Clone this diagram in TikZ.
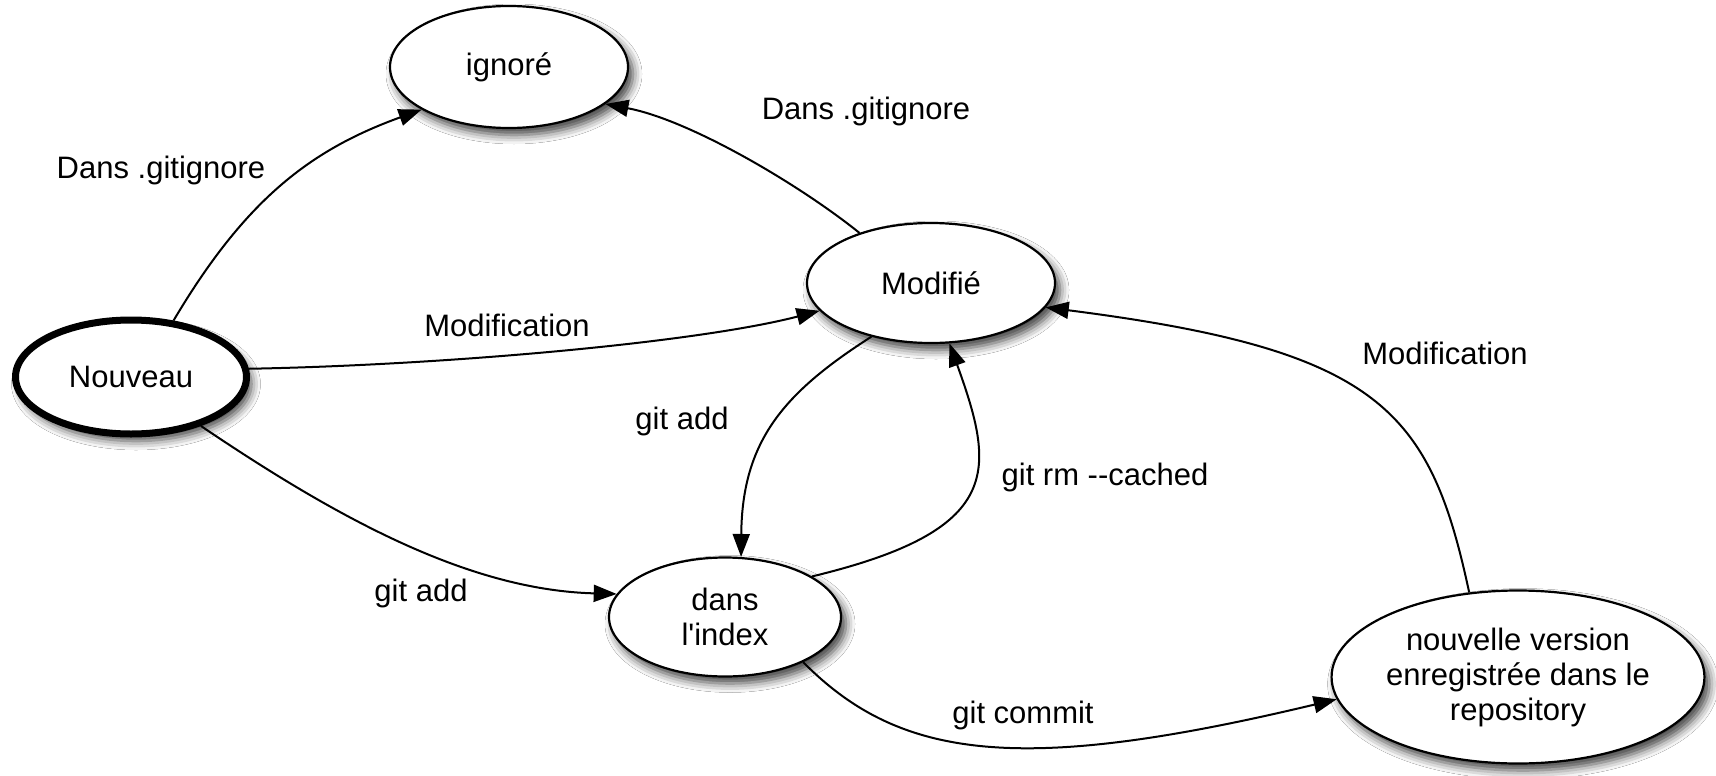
\documentclass[tikz,border=0pt]{standalone}
\usepackage{fontspec}
\setmainfont{Liberation Sans}
\usetikzlibrary{shapes.geometric, arrows.meta, shadows.blur}
\begin{document}
\begin{tikzpicture}[x=1pt,y=-1pt,
  stnode/.style={ellipse, draw, fill=white, line width=2.2pt, inner sep=0pt, align=center,
    font=\fontsize{31}{35}\selectfont,
    blur shadow={shadow xshift=5pt, shadow yshift=-7pt, shadow blur radius=9pt, shadow opacity=75}},
  arr/.style={-{Triangle[length=23pt,width=17pt]}, line width=2pt},
  lbl/.style={font=\fontsize{31}{35}\selectfont, inner sep=0pt}
]
\fill[white] (0,0) rectangle (1716,776);
\useasboundingbox (0,0) rectangle (1716,776);

\node[stnode, minimum width=238pt, minimum height=122pt] (I) at (509,67) {ignoré};
\node[stnode, minimum width=248pt, minimum height=120pt] (M) at (931,283) {Modifié};
\node[stnode, line width=7pt, minimum width=231pt, minimum height=114pt] (N) at (131,377) {Nouveau};
\node[stnode, minimum width=232pt, minimum height=119pt] (D) at (725,617) {dans\\l\textquotesingle index};
\node[stnode, minimum width=372pt, minimum height=173pt] (V) at (1518,677) {nouvelle version\\enregistrée dans le\\repository};

\draw[arr] (N.53) .. controls (245,200) and (310,150) .. (I.206);
\draw[arr] (M.145) .. controls (800,185) and (690,120) .. (I.339);
\draw[arr] (N.4) .. controls (450,365) and (700,342) .. (M.194);
\draw[arr] (M.222) .. controls (785,392) and (742,440) .. (D.75);
\draw[arr] (D.25) .. controls (1005,530) and (995,470) .. (M.287);
\draw[arr] (N.325) .. controls (340,520) and (470,590) .. (D.168);
\draw[arr] (D.330) .. controls (900,760) and (1020,775) .. (V.187);
\draw[arr] (V.120) .. controls (1430,410) and (1380,350) .. (M.348);

\node[lbl] (l1) at (161,170) {Dans .gitignore};
\node[lbl] (l2) at (866,111) {Dans .gitignore};
\node[lbl] (l3) at (507,325) {Modification};
\node[lbl] (l4) at (1445,353) {Modification};
\node[lbl] (l5) at (682,421) {git add};
\node[lbl] (l6) at (1105,477) {git rm -{}-cached};
\node[lbl] (l7) at (421,593) {git add};
\node[lbl] (l8) at (1023,715) {git commit};
\end{tikzpicture}
\end{document}
